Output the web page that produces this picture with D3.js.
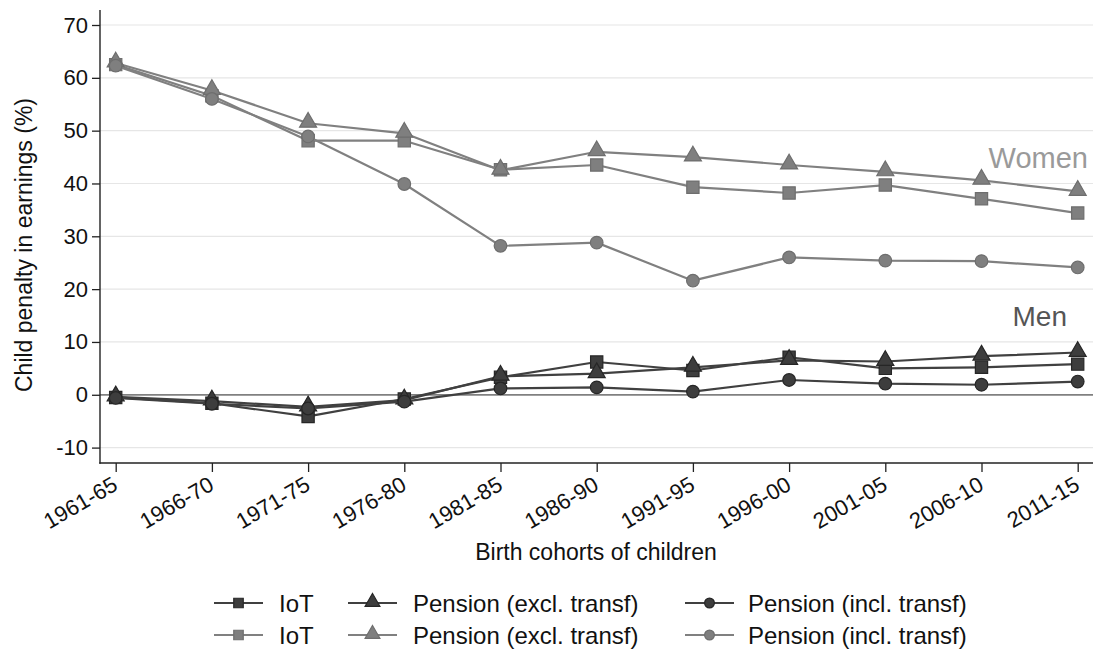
<!DOCTYPE html>
<html>
<head>
<meta charset="utf-8">
<script src="https://cdn.jsdelivr.net/npm/d3@7"></script>
<style>
  html, body { margin: 0; padding: 0; background: #fff; }
  svg { display: block; font-family: Arial, "Liberation Sans", Helvetica, sans-serif; }
</style>
</head>
<body>
<svg id="chart" width="1096" height="655"></svg>
<script>
// ---- data ----
const cohorts = ["1961-65","1966-70","1971-75","1976-80","1981-85","1986-90","1991-95","1996-00","2001-05","2006-10","2011-15"];
const yTicks = [-10, 0, 10, 20, 30, 40, 50, 60, 70];

const womenIoT      = [62.5, 56.6, 48.1, 48.1, 42.6, 43.5, 39.3, 38.2, 39.7, 37.1, 34.4];
const womenPensExcl = [62.8, 57.6, 51.4, 49.5, 42.5, 46.0, 45.0, 43.5, 42.2, 40.6, 38.5];
const womenPensIncl = [62.3, 56.0, 48.9, 39.9, 28.2, 28.8, 21.6, 26.0, 25.4, 25.3, 24.1];

const menIoT      = [-0.5, -1.6, -4.1, -0.8, 3.3, 6.2, 4.6, 7.1, 5.0, 5.2, 5.8];
const menPensExcl = [-0.4, -1.2, -2.3, -1.0, 3.5, 4.0, 5.2, 6.5, 6.3, 7.3, 8.0];
const menPensIncl = [-0.6, -1.7, -2.6, -1.3, 1.2, 1.4, 0.6, 2.8, 2.1, 1.9, 2.5];

const legendLabels = ["IoT", "Pension (excl. transf)", "Pension (incl. transf)"];
const groupLabels = ["Women", "Men"];

// ---- styles ----
const LIGHT = { line: "#808080", fill: "#7f7f7f", stroke: "#6e6e6e" };
const DARK  = { line: "#404040", fill: "#3d3d3d", stroke: "#262626" };

const svg = d3.select("#chart");
const plot = { left: 100, right: 1093, top: 10, bottom: 463 };

const x = d3.scalePoint().domain(cohorts).range([115.7, 1077.7]);
const y = d3.scaleLinear().domain([-10, 70]).range([447.6, 25]);

// gridlines
svg.append("g").selectAll("line").data(yTicks.filter(d => d !== 0)).join("line")
  .attr("x1", plot.left).attr("x2", plot.right)
  .attr("y1", d => y(d)).attr("y2", d => y(d))
  .attr("stroke", "#e6e6e6").attr("stroke-width", 1.2);

// zero line
svg.append("line")
  .attr("x1", plot.left).attr("x2", plot.right)
  .attr("y1", y(0)).attr("y2", y(0))
  .attr("stroke", "#808080").attr("stroke-width", 1.8);

// axes
const yAxis = svg.append("g").attr("transform", `translate(${plot.left},0)`)
  .call(d3.axisLeft(y).tickValues(yTicks).tickFormat(d => String(d)).tickSize(8).tickPadding(4).tickSizeOuter(0));
yAxis.select(".domain").remove();
yAxis.selectAll(".tick line").attr("stroke", "#222").attr("stroke-width", 1.3);
yAxis.selectAll("text").attr("font-size", 22).attr("fill", "#111")
  .attr("font-family", "Arial, 'Liberation Sans', sans-serif");

const xAxis = svg.append("g").attr("transform", `translate(0,${plot.bottom})`)
  .call(d3.axisBottom(x).tickSize(9).tickSizeOuter(0));
xAxis.select(".domain").remove();
xAxis.selectAll(".tick line").attr("stroke", "#222").attr("stroke-width", 1.3);
xAxis.selectAll("text")
  .attr("font-size", 22).attr("fill", "#111")
  .attr("font-family", "Arial, 'Liberation Sans', sans-serif")
  .attr("text-anchor", "end")
  .attr("dy", null)
  .attr("y", 0).attr("x", 0)
  .attr("transform", "translate(3,26) rotate(-30)");

// axis lines
svg.append("line").attr("x1", plot.left).attr("x2", plot.left)
  .attr("y1", plot.top).attr("y2", plot.bottom + 0.7)
  .attr("stroke", "#222").attr("stroke-width", 1.4);
svg.append("line").attr("x1", plot.left - 0.7).attr("x2", plot.right)
  .attr("y1", plot.bottom).attr("y2", plot.bottom)
  .attr("stroke", "#222").attr("stroke-width", 1.4);

// axis titles
svg.append("text").attr("transform", "translate(32,245) rotate(-90)")
  .attr("text-anchor", "middle").attr("font-size", 23).attr("fill", "#111")
  .text("Child penalty in earnings (%)");
svg.append("text").attr("x", 596).attr("y", 560)
  .attr("text-anchor", "middle").attr("font-size", 23).attr("fill", "#111")
  .text("Birth cohorts of children");

// ---- series ----
const symbols = [d3.symbolSquare, d3.symbolTriangle, d3.symbolCircle];
const symSizes = [150, 125, 125];
const series = [
  { vals: womenIoT, sym: 0, st: LIGHT },
  { vals: womenPensExcl, sym: 1, st: LIGHT },
  { vals: womenPensIncl, sym: 2, st: LIGHT },
  { vals: menIoT, sym: 0, st: DARK },
  { vals: menPensExcl, sym: 1, st: DARK },
  { vals: menPensIncl, sym: 2, st: DARK }
];
const line = d3.line().x((d, i) => x(cohorts[i])).y(d => y(d));

series.forEach(s => {
  svg.append("path").datum(s.vals).attr("d", line)
    .attr("fill", "none").attr("stroke", s.st.line).attr("stroke-width", 2.2)
    .attr("stroke-linejoin", "round");
  const symOffset = s.sym === 1 ? -1 : 0;
  svg.append("g").selectAll("path").data(s.vals).join("path")
    .attr("transform", (d, i) => `translate(${x(cohorts[i])},${y(d) + symOffset})`)
    .attr("d", d3.symbol().type(symbols[s.sym]).size(symSizes[s.sym]))
    .attr("fill", s.st.fill).attr("stroke", s.st.stroke).attr("stroke-width", 1.2);
});

// group labels
svg.append("text").attr("x", 1088).attr("y", 168).attr("text-anchor", "end")
  .attr("font-size", 29).attr("fill", "#9a9a9a").text(groupLabels[0]);
svg.append("text").attr("x", 1067).attr("y", 326).attr("text-anchor", "end")
  .attr("font-size", 28).attr("fill", "#555").text(groupLabels[1]);

// ---- legend ----
const legCols = [214, 348, 685];
const legRows = [603, 635];
const legStyles = [DARK, LIGHT];
const legSizes = [90, 95, 75];
legRows.forEach((ry, r) => {
  legendLabels.forEach((lab, c) => {
    const g = svg.append("g").attr("transform", `translate(${legCols[c]},${ry})`);
    g.append("line").attr("x1", 0).attr("x2", 49).attr("y1", 0).attr("y2", 0)
      .attr("stroke", legStyles[r].line).attr("stroke-width", 2.2);
    g.append("path").attr("transform", `translate(24.5,${c === 1 ? -1 : 0})`)
      .attr("d", d3.symbol().type(symbols[c]).size(legSizes[c]))
      .attr("fill", legStyles[r].fill).attr("stroke", legStyles[r].stroke).attr("stroke-width", 1.2);
    g.append("text").attr("x", c === 2 ? 63 : 65).attr("y", 8.5)
      .attr("font-size", 24).attr("fill", "#111").text(lab);
  });
});
</script>
</body>
</html>
